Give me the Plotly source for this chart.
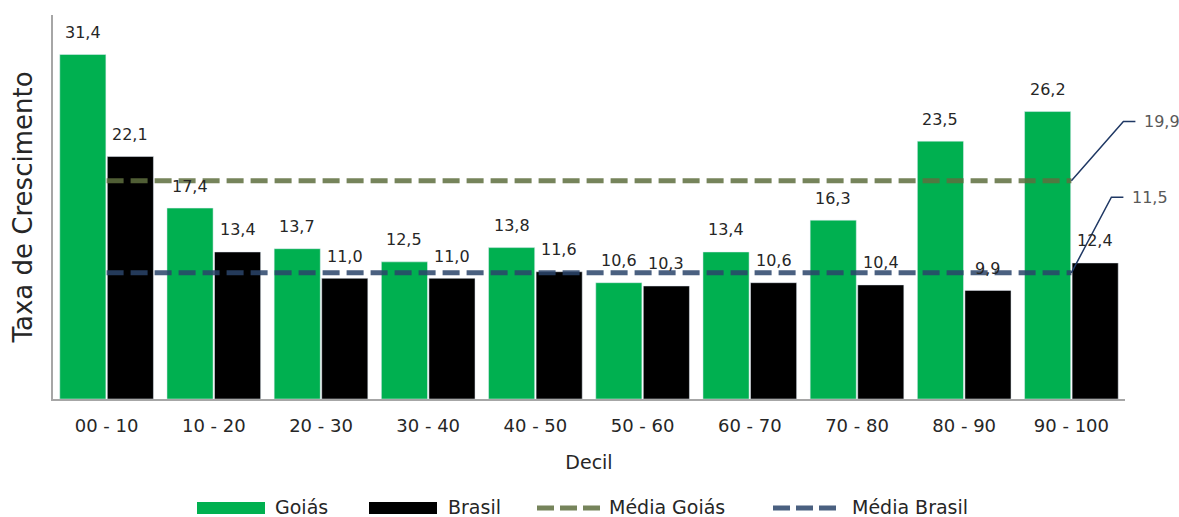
import plotly.graph_objects as go

# Growth rate by income decile
decis = ["00 - 10", "10 - 20", "20 - 30", "30 - 40", "40 - 50",
         "50 - 60", "60 - 70", "70 - 80", "80 - 90", "90 - 100"]
goias = [31.4, 17.4, 13.7, 12.5, 13.8, 10.6, 13.4, 16.3, 23.5, 26.2]
brasil = [22.1, 13.4, 11.0, 11.0, 11.6, 10.3, 10.6, 10.4, 9.9, 12.4]
media_goias = 19.9
media_brasil = 11.5

W, H = 1179, 517
ML, MR, MT, MB = 53, 54, 15, 118
PW, PH = W - ML - MR, H - MT - MB
YMAX = 35
FONT = "DejaVu Sans"
GREEN = "#00B050"
OLIVE = "rgba(94,110,62,0.85)"
NAVY = "rgba(42,68,106,0.85)"
LEADER = "#1F3864"
TEXT = "#262626"
BARGAP, GROUPGAP = 0.113, 0.03
N = len(decis)


def px_x(x):
    return (x - ML) / PW


def px_y(y):
    return (H - MB - y) / PH


def cat_x(pos):
    # category position (index units) -> paper fraction
    return (pos + 0.5) / N


def val_y(v):
    return v / YMAX


fig = go.Figure()
fig.add_trace(go.Bar(x=decis, y=goias, name="Goiás", marker_color=GREEN))
fig.add_trace(go.Bar(x=decis, y=brasil, name="Brasil", marker_color="#000000"))
fig.add_trace(go.Scatter(x=decis, y=[media_goias] * N, mode="lines",
                         name="Média Goiás",
                         line=dict(color=OLIVE, width=5, dash="17px,7px")))
fig.add_trace(go.Scatter(x=decis, y=[media_brasil] * N, mode="lines",
                         name="Média Brasil",
                         line=dict(color=NAVY, width=5, dash="17px,7px")))

fmt = lambda v: f"{v:.1f}".replace(".", ",")
off = (1 - BARGAP) / 4
annotations = []
for i in range(N):
    for dx, val in ((-off, goias[i]), (off, brasil[i])):
        annotations.append(dict(x=i + dx, y=val, xref="x", yref="y",
                                text=fmt(val), showarrow=False,
                                yanchor="middle", yshift=22,
                                font=dict(family=FONT, size=16, color=TEXT)))

# leader lines from the end of each average line to its value label
last = N - 1
shapes = []
for val, elbow_dy, elbow_dx, end_dx in ((media_goias, 5.4, 0.485, 0.597),
                                          (media_brasil, 6.9, 0.373, 0.485)):
    x0, y0 = cat_x(last), val_y(val)
    x1, y1 = cat_x(last + elbow_dx), val_y(val + elbow_dy)
    x2 = cat_x(last + end_dx)
    shapes.append(dict(type="path", xref="paper", yref="paper",
                       path=f"M {x0},{y0} L {x1},{y1} L {x2},{y1}",
                       line=dict(color=LEADER, width=1.5)))
    annotations.append(dict(x=x2, y=y1, xref="paper", yref="paper",
                            text=fmt(val), showarrow=False, xanchor="left",
                            yanchor="middle", xshift=7,
                            font=dict(family=FONT, size=16, color="#595959")))

# legend row along the bottom
ly = 507
legend_items = [
    ("rect", GREEN, 197, 265, "Goiás", 273),
    ("rect", "#000000", 369, 437, "Brasil", 446),
    ("dash", OLIVE, 537, 600, "Média Goiás", 607),
    ("dash", NAVY, 773, 837, "Média Brasil", 850),
]
for kind, color, x0, x1, label, tx in legend_items:
    if kind == "rect":
        shapes.append(dict(type="rect", xref="paper", yref="paper",
                           x0=px_x(x0), x1=px_x(x1), y0=px_y(ly + 7), y1=px_y(ly - 5),
                           fillcolor=color, line=dict(width=0)))
    else:
        shapes.append(dict(type="line", xref="paper", yref="paper",
                           x0=px_x(x0), x1=px_x(x1), y0=px_y(ly + 1), y1=px_y(ly + 1),
                           line=dict(color=color, width=5, dash="17px,6px")))
    annotations.append(dict(x=px_x(tx), y=px_y(ly), xref="paper", yref="paper",
                            text=label, showarrow=False, xanchor="left",
                            yanchor="middle",
                            font=dict(family=FONT, size=19, color=TEXT)))

fig.update_layout(
    width=W, height=H,
    margin=dict(l=ML, r=MR, t=MT, b=MB),
    plot_bgcolor="white", paper_bgcolor="white",
    barmode="group", bargap=BARGAP, bargroupgap=GROUPGAP,
    separators=",.",
    font=dict(family=FONT, color="#404040"),
    showlegend=False,
    annotations=annotations,
    shapes=shapes,
    xaxis=dict(range=[-0.5, N - 0.5], showline=True, linecolor="#A6A6A6",
               linewidth=1.5, ticks="", showgrid=False, ticklabelstandoff=10,
               tickfont=dict(family=FONT, size=18, color=TEXT),
               title=dict(text="Decil", standoff=20,
                          font=dict(family=FONT, size=19, color=TEXT))),
    yaxis=dict(range=[0, YMAX], showline=True, linecolor="#A6A6A6", linewidth=1.5,
               showticklabels=False, ticks="", showgrid=False, zeroline=False,
               title=dict(text="Taxa de Crescimento", standoff=11,
                          font=dict(family=FONT, size=26, color=TEXT))),
)

fig.write_html("out.html")
